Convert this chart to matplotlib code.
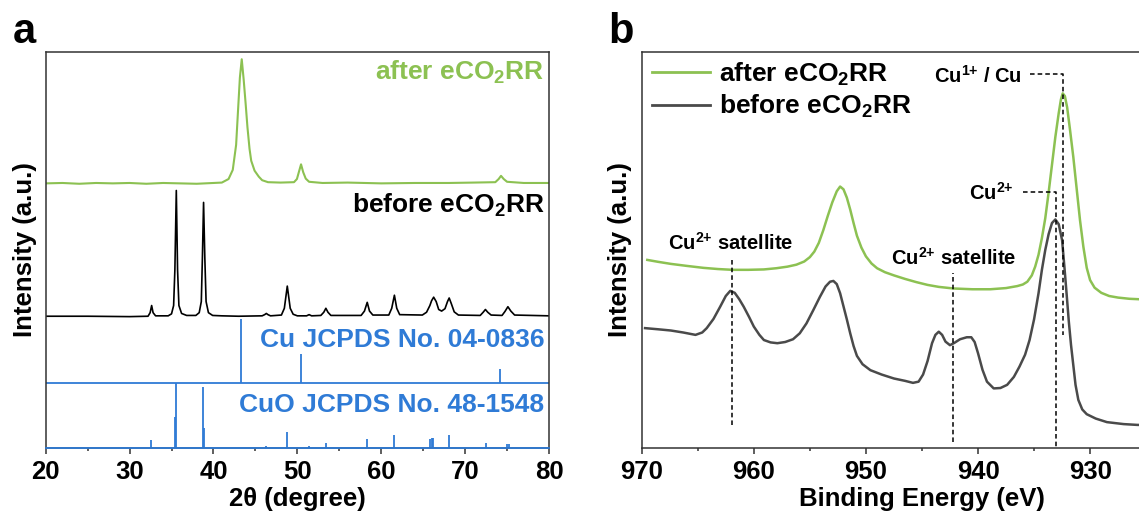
import matplotlib
matplotlib.use("Agg")
import matplotlib.pyplot as plt
from matplotlib.lines import Line2D

# ---------------- data: XRD (panel a) ----------------
xrd_after_x = [20, 22, 24, 26, 28, 30, 32, 34, 36, 38, 40, 41, 41.8, 42.3, 42.7, 42.95,
               43.15, 43.37, 43.6, 43.85, 44.05, 44.3, 44.5, 44.9, 45.4, 45.8, 46.5, 48,
               49.6, 49.95, 50.2, 50.44, 50.7, 51.0, 51.4, 53, 56, 60, 64, 68, 71, 73.6,
               74.0, 74.28, 74.6, 75.0, 77, 80]
xrd_after_y = [66.8, 66.9, 66.7, 66.9, 66.8, 66.9, 66.7, 66.9, 66.8, 66.7, 66.9, 67.0, 67.9,
               70.2, 76.5, 86.0, 93.5, 98.1, 93.0, 86.5, 81.0, 75.5, 72.5, 70.0, 68.5, 67.6,
               67.1, 67.0, 67.1, 67.9, 69.8, 71.6, 69.6, 68.0, 67.2, 66.9, 67.0, 66.8, 66.9,
               66.9, 67.0, 67.1, 67.9, 68.7, 67.9, 67.2, 66.9, 66.9]

xrd_before_x = [20.0, 25.0, 30.0, 32.2, 32.45, 32.63, 32.8, 33.1, 34.6, 35.0, 35.25, 35.4,
                35.57, 35.72, 35.88, 36.2, 36.8, 37.9, 38.3, 38.55, 38.68, 38.82, 38.97,
                39.12, 39.4, 39.9, 41.0, 43.0, 45.8, 46.1, 46.3, 46.5, 46.8, 48.1, 48.45,
                48.65, 48.8, 48.95, 49.15, 49.5, 50.0, 51.1, 51.4, 51.7, 52.8, 53.15, 53.4,
                53.65, 54.0, 57.6, 58.0, 58.33, 58.6, 59.0, 60.9, 61.25, 61.57, 61.85, 62.2,
                64.9, 65.4, 65.8, 66.0, 66.25, 66.55, 66.85, 67.2, 67.6, 67.9, 68.1, 68.35,
                68.7, 69.2, 71.8, 72.15, 72.42, 72.7, 73.1, 74.4, 74.75, 75.1, 75.45, 75.9,
                80.0]
xrd_before_y = [33.3, 33.3, 33.2, 33.3, 34.2, 36.0, 34.2, 33.4, 33.4, 33.9, 36.0, 45.0,
                65.0, 45.0, 36.0, 34.0, 33.5, 33.5, 34.2, 37.0, 48.0, 62.0, 48.0, 37.0, 34.2,
                33.5, 33.4, 33.3, 33.4, 33.7, 34.0, 33.7, 33.4, 33.6, 35.3, 38.5, 40.9, 38.5,
                35.3, 33.8, 33.4, 33.4, 33.7, 33.4, 33.5, 34.3, 35.3, 34.3, 33.5, 33.5, 34.6,
                36.8, 34.6, 33.6, 33.6, 35.3, 38.6, 35.3, 33.7, 33.6, 34.3, 36.0, 37.2, 38.1,
                37.0, 35.0, 34.6, 35.2, 37.0, 37.9, 36.5, 34.4, 33.6, 33.5, 34.3, 35.0, 34.3,
                33.6, 33.5, 34.5, 35.7, 34.6, 33.6, 33.4]

# reference patterns (stick positions and stick tops)
cu_base = 16.5
cu_pos = [43.30, 50.43, 74.13]
cu_top = [32.5, 23.9, 19.9]

cuo_base = 0.0
cuo_pos = [32.55, 35.38, 35.52, 38.73, 38.90, 46.30, 48.76, 51.40, 53.45, 58.30, 61.55,
           65.76, 66.02, 66.22, 68.10, 72.45, 75.02, 75.20]
cuo_top = [2.1, 8.0, 16.4, 15.5, 5.0, 0.6, 4.2, 0.5, 1.4, 2.3, 3.4,
           2.3, 2.5, 2.7, 3.4, 1.3, 1.2, 1.1]

# ---------------- data: XPS Cu 2p (panel b) ----------------
xps_after_x = [969.5, 968.5, 967.4, 966.0, 964.5, 963.2, 961.9, 960.5, 959.1, 958.0, 957.0,
               956.2, 955.5, 955.0, 954.6, 954.2, 953.8, 953.4, 953.0, 952.6, 952.3, 952.0,
               951.7, 951.4, 951.1, 950.8, 950.4, 950.0, 949.5, 949.0, 948.3, 947.5, 946.5,
               945.5, 944.5, 943.5, 942.2, 940.5, 938.9, 937.5, 936.5, 936.0, 935.6, 935.2,
               934.9, 934.6, 934.3, 934.0, 933.7, 933.4, 933.1, 932.8, 932.6, 932.44, 932.25,
               932.05, 931.8, 931.5, 931.2, 930.9, 930.6, 930.3, 930.0, 929.6, 929.0, 928.3,
               927.5, 926.5, 925.0, 920.0]
xps_after_y = [47.5, 47.0, 46.5, 46.0, 45.5, 45.2, 45.0, 45.0, 45.1, 45.4, 45.8,
               46.3, 47.1, 48.2, 49.6, 51.8, 55.0, 58.6, 62.0, 64.8, 66.0, 65.3,
               63.2, 60.2, 56.8, 53.6, 50.6, 48.4, 46.6, 45.4, 44.4, 43.6, 42.7,
               41.9, 41.2, 40.7, 40.3, 40.1, 40.1, 40.4, 40.9, 41.3, 42.0, 43.6,
               45.8, 48.8, 53.0, 58.0, 64.5, 71.5, 78.5, 84.5, 88.0, 89.5, 88.8,
               86.0, 80.5, 73.5, 65.5, 57.5, 50.8, 45.5, 42.4, 40.5, 39.2, 38.4,
               38.0, 37.7, 37.5, 37.4]

xps_before_x = [969.7, 968.5, 967.4, 966.3, 965.2, 964.6, 964.2, 963.6, 963.0, 962.5, 962.1,
                961.7, 961.3, 960.9, 960.4, 960.0, 959.5, 959.1, 958.5, 957.9, 957.2, 956.5,
                955.9, 955.3, 954.7, 954.1, 953.6, 953.2, 952.9, 952.6, 952.3, 952.0, 951.7,
                951.4, 951.1, 950.8, 950.3, 949.6, 948.6, 947.5, 946.5, 945.8, 945.3, 944.9,
                944.5, 944.1, 943.8, 943.5, 943.2, 942.9, 942.5, 942.1, 941.6, 941.0, 940.6,
                940.3, 940.0, 939.6, 939.2, 938.6, 938.0, 937.4, 936.8, 936.3, 935.8, 935.4,
                935.0, 934.6, 934.3, 934.0, 933.7, 933.4, 933.1, 932.8, 932.5, 932.3, 932.1,
                931.9, 931.7, 931.5, 931.3, 931.05, 930.7, 930.3, 929.5, 928.5, 927.0, 925.8,
                920.0]
xps_before_y = [30.3, 30.0, 29.7, 29.2, 28.6, 29.2, 30.3, 32.6, 35.7, 38.4, 39.7,
                39.2, 37.6, 35.7, 33.0, 30.7, 28.6, 27.3, 26.7, 26.5, 26.8, 27.5,
                29.0, 31.5, 34.8, 38.2, 40.8, 42.0, 42.2, 41.4, 39.1, 35.8, 32.5,
                29.0, 25.8, 23.3, 21.2, 19.7, 18.6, 17.6, 17.0, 16.5, 16.8, 18.6,
                22.0, 26.5, 28.6, 29.4, 28.6, 26.9, 26.0, 26.6, 27.5, 28.0, 28.0,
                26.8, 24.0, 19.8, 16.8, 15.1, 15.2, 16.0, 18.0, 20.6, 23.6, 27.3,
                32.5, 39.1, 45.0, 50.0, 54.0, 56.8, 57.7, 56.5, 52.5, 46.0, 39.1,
                32.0, 26.0, 21.0, 16.0, 12.2, 9.8, 8.6, 7.5, 6.6, 6.1, 5.9,
                5.7]

# marker lines: (energy, bottom, top[, start of the horizontal leader])
sat1_line = (961.94, 5.9, 47.9)
sat2_line = (942.22, 1.7, 44.1)
cu1_line = (932.44, 28.6, 94.4, 935.36)
cu2_line = (933.07, 0.0, 64.5, 935.96)

xrd_ticks = [20, 30, 40, 50, 60, 70, 80]
xps_ticks = [970, 960, 950, 940, 930]

GREEN = "#8cc152"
BLUE = "#2f7bd6"
DARK = "#4a4a4a"
SPINE = "#333333"

plt.rcParams["font.family"] = ["Liberation Sans", "DejaVu Sans"]
plt.rcParams["font.weight"] = "bold"
plt.rcParams["axes.labelweight"] = "bold"
plt.rcParams["mathtext.fontset"] = "custom"
plt.rcParams["mathtext.rm"] = "Liberation Sans:bold"
plt.rcParams["mathtext.it"] = "Liberation Sans:bold"
plt.rcParams["mathtext.bf"] = "Liberation Sans:bold"

W, H = 1139, 521
fig = plt.figure(figsize=(W / 100, H / 100), dpi=100)

ax_bottom = (H - 448.3) / H
ax_height = (448.3 - 51.7) / H
ax_a = fig.add_axes([45.7 / W, ax_bottom, (549.0 - 45.7) / W, ax_height])
ax_b = fig.add_axes([641.7 / W, ax_bottom, 560.5 / W, ax_height])

FS = 18.5
FS_TXT = 19


def style_axes(ax):
    for sp in ax.spines.values():
        sp.set_color(SPINE)
        sp.set_linewidth(1.1)
    ax.set_yticks([])
    ax.tick_params(axis="x", which="major", direction="out", length=4.3, width=1.1,
                   color=SPINE, labelsize=FS, pad=4)
    ax.tick_params(axis="x", which="minor", direction="out", length=2.4, width=1.1,
                   color=SPINE)
    ax.set_ylim(0, 100)


# ---------------- panel a ----------------
style_axes(ax_a)
ax_a.set_xlim(20, 80)
ax_a.set_xticks(xrd_ticks)
ax_a.set_xticks([25, 35, 45, 55, 65, 75], minor=True)
plt.setp(ax_a.get_xticklabels(), fontweight="bold")

ax_a.plot(xrd_after_x, xrd_after_y, color=GREEN, lw=1.5)
ax_a.plot(xrd_before_x, xrd_before_y, color="black", lw=1.2)

ax_a.axhline(cu_base, color=BLUE, lw=1.3)
ax_a.vlines(cu_pos, cu_base, cu_top, color=BLUE, lw=1.3)
ax_a.plot([20, 80], [cuo_base, cuo_base], color=BLUE, lw=1.3, clip_on=False, zorder=3)
ax_a.vlines(cuo_pos, cuo_base, cuo_top, color=BLUE, lw=1.3)

ta = ax_a.get_yaxis_transform()
ax_a.text(0.991, 92.9, r"after eCO$_2$RR", color=GREEN, fontsize=FS_TXT, ha="right",
          va="baseline", transform=ta)
ax_a.text(0.991, 59.3, r"before eCO$_2$RR", color="black", fontsize=FS_TXT, ha="right",
          va="baseline", transform=ta)
ax_a.text(0.991, 25.5, "Cu JCPDS No. 04-0836", color=BLUE, fontsize=FS_TXT, ha="right",
          va="baseline", transform=ta)
ax_a.text(0.991, 9.2, "CuO JCPDS No. 48-1548", color=BLUE, fontsize=FS_TXT, ha="right",
          va="baseline", transform=ta)

ax_a.set_xlabel("2θ (degree)", fontsize=FS, fontweight="bold", labelpad=2)
ax_a.text(-0.041, 0.5, "Intensity (a.u.)", rotation=90, fontsize=FS, ha="center",
          va="center", transform=ax_a.transAxes)

# ---------------- panel b ----------------
style_axes(ax_b)
ax_b.set_xlim(970, 920)
ax_b.set_xticks(xps_ticks)
ax_b.set_xticks([965, 955, 945, 935, 925], minor=True)
plt.setp(ax_b.get_xticklabels(), fontweight="bold")

ax_b.plot(xps_after_x, xps_after_y, color=GREEN, lw=1.8)
ax_b.plot(xps_before_x, xps_before_y, color=DARK, lw=1.8)

dash = dict(color="black", lw=1.1, ls=(0, (3, 2)))
ax_b.plot([sat1_line[0]] * 2, sat1_line[1:3], **dash)
ax_b.plot([sat2_line[0]] * 2, sat2_line[1:3], **dash)
ax_b.plot([cu1_line[3], cu1_line[0], cu1_line[0]], [cu1_line[2], cu1_line[2], cu1_line[1]], **dash)
ax_b.plot([cu2_line[3], cu2_line[0], cu2_line[0]], [cu2_line[2], cu2_line[2], cu2_line[1]], **dash)

FS2 = 14.5
ax_b.text(962.04, 50.0, r"Cu$^{2{+}}$ satellite", fontsize=FS2, ha="center", va="baseline")
ax_b.text(942.2, 46.3, r"Cu$^{2{+}}$ satellite", fontsize=FS2, ha="center", va="baseline")
ax_b.text(936.1, 92.2, r"Cu$^{1{+}}$ / Cu", fontsize=FS2, ha="right", va="baseline")
ax_b.text(936.85, 62.6, r"Cu$^{2{+}}$", fontsize=FS2, ha="right", va="baseline")

handles = [Line2D([], [], color=GREEN, lw=2.0), Line2D([], [], color=DARK, lw=2.0)]
ax_b.legend(handles, [r"after eCO$_2$RR", r"before eCO$_2$RR"], loc="upper left",
            bbox_to_anchor=(0.018, 0.978), frameon=False, fontsize=FS_TXT, borderpad=0,
            borderaxespad=0, handlelength=2.2, handletextpad=0.36, labelspacing=0.2)

ax_b.set_xlabel("Binding Energy (eV)", fontsize=FS, fontweight="bold", labelpad=2)
ax_b.text(-0.0387, 0.5, "Intensity (a.u.)", rotation=90, fontsize=FS, ha="center",
          va="center", transform=ax_b.transAxes)

fig.text(12.7 / W, 1 - 42.7 / H, "a", fontsize=30, ha="left", va="baseline")
fig.text(608 / W, 1 - 43.0 / H, "b", fontsize=30, ha="left", va="baseline")

fig.savefig("out.png", dpi=100)
